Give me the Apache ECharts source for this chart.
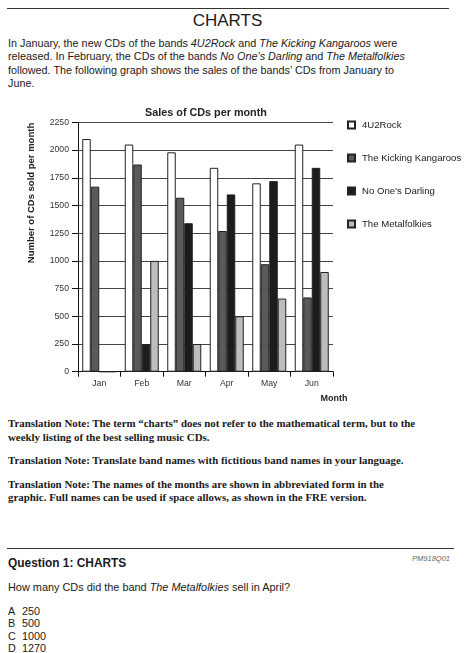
<!DOCTYPE html>
<html>
<head>
    <meta charset="utf-8">
    <script src="https://cdn.jsdelivr.net/npm/echarts@6/dist/echarts.min.js"></script>
    <style>
        body { margin: 0; background: #fff; width: 465px; height: 653px; position: relative; overflow: hidden; }
        .t { position: absolute; white-space: nowrap; color: #1a1a1a; font-family: "Liberation Sans", Arial, sans-serif; }
        .rule { position: absolute; height: 1.4px; background: #333; }
        .note { font-family: "Liberation Serif", "Times New Roman", serif; font-weight: bold; font-size: 10.9px; line-height: 13.3px; left: 8px; }
    </style>
</head>
<body>

    <div class="rule" style="left:7px; top:7.6px; width:442px;"></div>
    <div class="t" style="left:0; width:455px; text-align:center; top:10px; font-size:17px; line-height:21px;">CHARTS</div>
    <div class="t" style="left:8px; top:37px; font-size:10.8px; line-height:13.3px;">
        In January, the new CDs of the bands <i>4U2Rock</i> and <i>The Kicking Kangaroos</i> were<br>
        released. In February, the CDs of the bands <i>No One’s Darling</i> and <i>The Metalfolkies</i><br>
        followed. The following graph shows the sales of the bands’ CDs from January to<br>
        June.
    </div>

    <div id="main" style="position:absolute; left:0; top:100px; width:465px; height:310px;"></div>

    <div class="t note" style="top:417.4px;">Translation Note: The term “charts” does not refer to the mathematical term, but to the<br>weekly listing of the best selling music CDs.</div>
    <div class="t note" style="top:454.4px;">Translation Note: Translate band names with fictitious band names in your language.</div>
    <div class="t note" style="top:477.6px;">Translation Note: The names of the months are shown in abbreviated form in the<br>graphic. Full names can be used if space allows, as shown in the FRE version.</div>

    <div class="rule" style="left:7px; top:547.6px; width:447px; height:1.6px;"></div>
    <div class="t" style="left:8px; top:556px; font-size:11.9px; line-height:15px; font-weight:bold;">Question 1: CHARTS</div>
    <div class="t" style="right:15px; top:554px; font-size:7.5px; line-height:10px; font-style:italic; color:#666;">PM918Q01</div>
    <div class="t" style="left:8px; top:580.6px; font-size:10.9px; line-height:13.3px;">How many CDs did the band <i>The Metalfolkies</i> sell in April?</div>
    <div class="t" style="left:8px; top:604.8px; font-size:10.8px; line-height:12.4px;">A<br>B<br>C<br>D</div>
    <div class="t" style="left:22px; top:604.8px; font-size:10.8px; line-height:12.4px;">250<br>500<br>1000<br>1270</div>

<script type="text/javascript">
var months = ['Jan', 'Feb', 'Mar', 'Apr', 'May', 'Jun'];
var rock = [2100, 2050, 1980, 1840, 1700, 2050];
var kangaroos = [1670, 1870, 1570, 1270, 970, 670];
var darling = [0, 250, 1340, 1600, 1720, 1840];
var metalfolkies = [0, 1000, 250, 500, 660, 900];

var font = '"Liberation Sans", Arial, sans-serif';

function bar(name, data, color) {
    return {
        type: 'bar',
        name: name,
        data: data,
        barGap: '0%',
        barCategoryGap: '20%',
        itemStyle: { color: color, borderColor: '#222', borderWidth: 1 }
    };
}

var myChart = echarts.init(document.getElementById('main'));
myChart.setOption({
    animation: false,
    legend: {
        orient: 'vertical',
        left: 347,
        top: 20,
        padding: 0,
        itemWidth: 7,
        itemHeight: 7,
        itemGap: 23,
        icon: 'rect',
        textStyle: { fontFamily: font, fontSize: 9.6, color: '#222', padding: [0, 0, 0, 2] }
    },
    grid: { left: 78, top: 22.4, width: 255, height: 249.3 },
    xAxis: {
        type: 'category',
        data: months,
        axisLine: { lineStyle: { color: '#111', width: 1 } },
        axisTick: { show: true, length: 5, lineStyle: { color: '#111' } },
        axisLabel: { fontFamily: font, fontSize: 8.7, color: '#333', margin: 7 }
    },
    yAxis: {
        type: 'value',
        min: 0,
        max: 2250,
        interval: 250,
        axisLine: { show: true, lineStyle: { color: '#111', width: 1 } },
        axisTick: { show: true, length: 6, lineStyle: { color: '#111' } },
        axisLabel: {
            fontFamily: font, fontSize: 8.7, color: '#333', margin: 9,
            formatter: function (v) { return String(v); }
        },
        splitLine: { show: true, lineStyle: { color: '#444', width: 1 } }
    },
    graphic: [
        {
            type: 'text',
            x: 206,
            y: 12.7,
            style: {
                text: 'Sales of CDs per month',
                fontFamily: font, fontSize: 10.8, fontWeight: 'bold', fill: '#222',
                align: 'center', verticalAlign: 'middle'
            }
        },
        {
            type: 'text',
            x: 31.7,
            y: 93,
            rotation: Math.PI / 2,
            style: {
                text: 'Number of CDs sold per month',
                fontFamily: font, fontSize: 9.5, fontWeight: 'bold', fill: '#222',
                align: 'center', verticalAlign: 'middle'
            }
        },
        {
            type: 'text',
            x: 334,
            y: 299,
            style: {
                text: 'Month',
                fontFamily: font, fontSize: 9, fontWeight: 'bold', fill: '#222',
                align: 'center', verticalAlign: 'middle'
            }
        }
    ],
    series: [
        bar('4U2Rock', rock, '#ffffff'),
        bar('The Kicking Kangaroos', kangaroos, '#5a5a5a'),
        bar('No One’s Darling', darling, '#1c1c1c'),
        bar('The Metalfolkies', metalfolkies, '#bdbdbd')
    ]
});
</script>

</body>
</html>
